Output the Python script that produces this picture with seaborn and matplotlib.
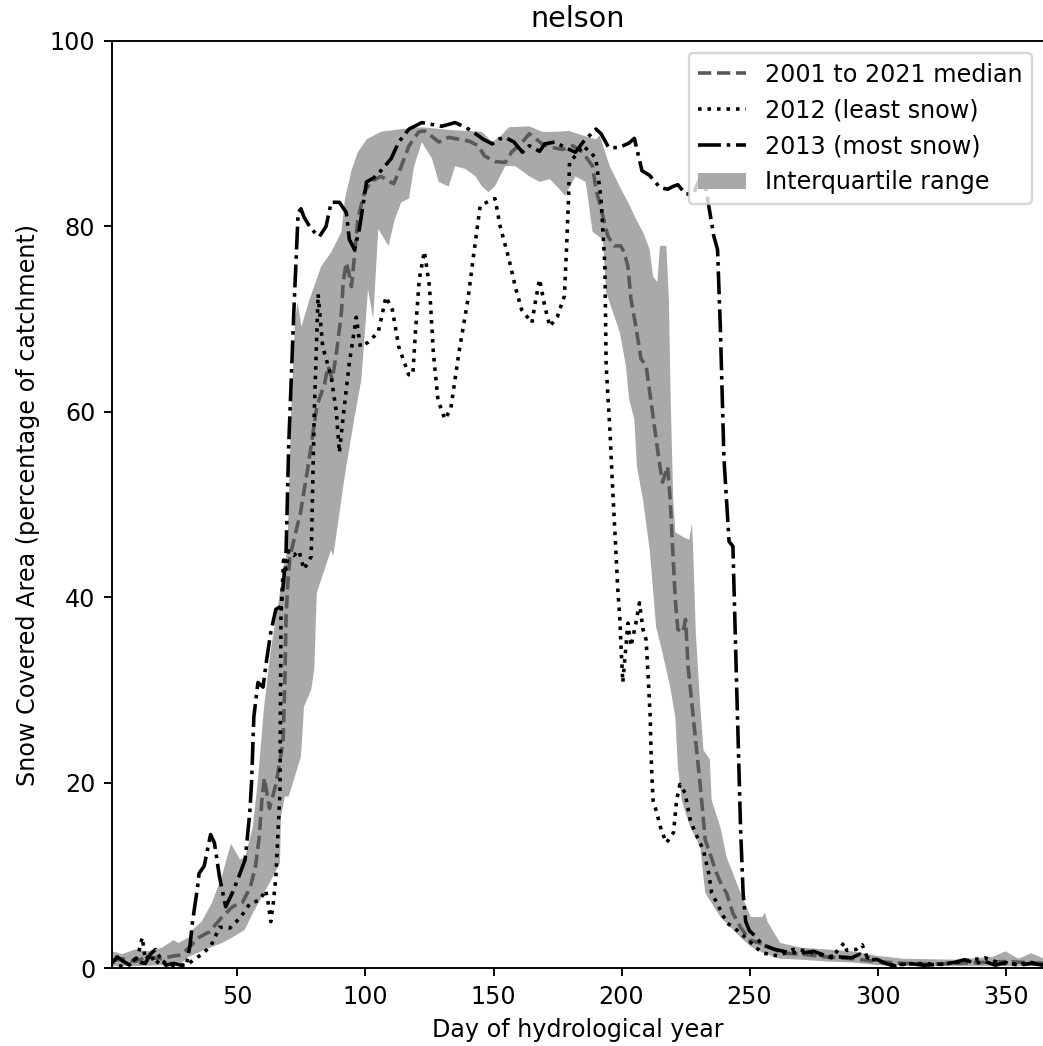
import numpy as np
import matplotlib
matplotlib.use("Agg")
import matplotlib.pyplot as plt
import seaborn as sns

# 中位数 (2001-2021)
med_days = [1, 5, 10, 15, 20, 25, 28, 31, 35, 39, 44, 48, 52, 55, 57, 58.5, 59.5, 60.5, 62.5, 65,
            67.8, 68.5, 69, 69.7, 70.5, 74.6, 77.8, 81, 84, 85.4, 87, 88.5, 90.6, 91.3, 92.5, 93.5,
            94.5, 95.7, 97, 99.6, 102, 106, 111, 114, 117, 120.8, 123, 126, 128.6, 132.5, 136.5,
            140.5, 144, 146.5, 150.6, 154.6, 157, 161.3, 164, 169, 173, 177, 181, 184.8, 188.7,
            190, 192, 194.6, 197, 199.7, 201, 202.5, 203.7, 205.6, 207.6, 209.6, 212.3, 215, 216,
            218, 219, 220, 221, 222, 224, 225, 226, 228, 230, 231, 232.7, 234.5, 237, 239.5, 241,
            243.5, 246.5, 250, 254, 258, 263, 270, 280, 290, 300, 310, 320, 330, 340, 350, 358, 365]
med_vals = [0.8, 1.0, 0.7, 1.2, 1.0, 1.3, 1.4, 2.2, 3.3, 3.9, 5.5, 6.6, 7.1, 8.7, 10.9, 14.1, 18.0,
            20.5, 17.2, 19.8, 24.3, 30.8, 38.0, 41.6, 44.4, 49.1, 54.5, 60.6, 63.0, 64.9, 63.5,
            66.0, 70.7, 74.0, 76.1, 75.0, 73.5, 76.8, 80.8, 83.7, 84.8, 85.4, 84.6, 86.5, 88.7,
            90.2, 90.3, 89.7, 89.1, 89.6, 89.4, 89.2, 88.7, 87.6, 87.0, 86.9, 88.0, 89.1, 90.0,
            88.9, 88.5, 88.3, 88.7, 88.0, 86.5, 84.0, 81.9, 79.0, 77.9, 77.9, 77.2, 75.7, 72.1,
            69.2, 65.7, 65.0, 59.5, 54.1, 52.4, 54.1, 50.5, 45.1, 39.7, 36.5, 36.2, 37.6, 32.5,
            27.1, 21.7, 18.9, 13.8, 12.4, 10.3, 8.7, 8.1, 5.9, 4.4, 3.0, 2.7, 2.2, 1.6, 1.5, 1.2,
            1.0, 0.7, 0.5, 0.4, 0.5, 0.6, 0.7, 0.6, 0.5]

# 四分位范围 下界
q25_days = [1, 10, 20, 28, 31, 37.5, 44, 48, 52.8, 56, 62.6, 66.6, 67, 68.5, 70, 74.8, 76, 78.8, 80,
            81, 82.7, 86.6, 87.4, 91.7, 95.6, 98.4, 101, 103, 105, 109, 111.5, 114, 117, 119, 122,
            126, 128.6, 132.5, 135, 139, 143, 145.5, 148, 150.5, 154.6, 158.5, 164, 168, 172,
            175.8, 178, 182, 186, 188.7, 192.7, 194, 199.3, 201.7, 203, 205, 206, 208.4, 211,
            213.5, 216, 219, 221, 222, 223.5, 226.8, 230.7, 232.7, 234.5, 238.6, 242.5, 246.5,
            250.5, 255.5, 262, 270, 280, 290, 300, 320, 340, 365]
q25_vals = [0.2, 0.2, 0.3, 0.5, 1.2, 2.0, 2.7, 3.3, 4.1, 5.9, 9.2, 11.3, 16.3, 18.5, 18.5, 22.8,
            28.2, 30.0, 32.2, 40.5, 41.9, 45.1, 44.4, 52.7, 59.2, 63.5, 73.2, 70.0, 79.7, 77.9,
            80.8, 82.6, 83.0, 86.5, 89.1, 87.3, 84.8, 84.3, 86.5, 86.2, 85.4, 84.3, 83.7, 84.3,
            86.5, 86.5, 85.4, 84.8, 85.1, 84.0, 83.3, 85.4, 84.8, 79.4, 78.6, 72.9, 68.6, 65.0,
            61.3, 59.2, 54.1, 50.5, 45.1, 36.8, 34.0, 30.3, 27.1, 21.7, 18.1, 15.2, 13.1, 8.1,
            7.3, 5.5, 4.4, 3.3, 2.3, 1.6, 1.0, 0.9, 0.7, 0.6, 0.3, 0.2, 0.2, 0.2]

# 四分位范围 上界
q75_days = [1, 5, 10, 15, 20.6, 25, 27, 31, 32.4, 36, 40, 44, 46, 47.5, 51, 53, 56, 58, 60.3, 63,
            65.8, 68, 69.5, 71, 72.5, 73.5, 75, 78, 82.7, 86.6, 90.6, 92, 94.5, 97, 100.5, 106,
            114, 122, 133, 145.5, 149.5, 153, 156, 164, 169, 174, 179.5, 185, 190, 191.5, 195.4,
            199.3, 203.3, 205.6, 208.4, 211, 212.3, 214, 215, 217.5, 218.5, 219.2, 220.2, 221,
            224, 226.5, 227.5, 228, 229, 230.6, 232, 234.5, 235.2, 238.6, 241, 246.5, 250.5, 255,
            256, 257, 262, 270, 280, 290, 300, 310, 330, 345, 350, 355, 360, 365]
q75_vals = [1.8, 1.5, 2.0, 1.8, 2.2, 3.0, 2.7, 3.3, 4.1, 5.0, 7.0, 10.0, 12.0, 13.4, 11.7, 12.0,
            15.2, 20.3, 27.9, 34.3, 39.0, 43.3, 45.0, 60.0, 70.0, 71.8, 69.2, 72.0, 75.7, 77.2,
            79.4, 83.0, 86.0, 88.0, 89.4, 90.2, 90.5, 90.7, 90.4, 90.2, 89.1, 89.8, 90.7, 90.8,
            90.2, 90.2, 90.3, 89.8, 89.4, 89.8, 86.5, 84.3, 82.2, 80.8, 79.4, 77.5, 74.6, 74.0,
            77.9, 77.9, 72.1, 61.3, 50.5, 47.0, 46.5, 46.2, 48.0, 45.0, 36.2, 28.9, 23.5, 22.5,
            18.1, 15.2, 12.0, 8.1, 5.5, 5.5, 6.0, 5.0, 2.7, 2.2, 2.0, 1.8, 1.3, 1.0, 0.9, 1.2,
            1.8, 1.0, 1.6, 1.0]

# 2012 (雪最少)
y2012_days = [1, 3, 6, 9, 11, 12.8, 14, 16, 18, 20, 22, 24, 27, 31, 35.6, 39.5, 43, 47, 51, 55,
              58.7, 61, 62, 63, 64, 65, 66, 66.6, 67, 68, 69, 70, 72, 74, 76, 78.8, 80, 81.5,
              83.3, 86.6, 88.6, 89.8, 91.5, 93.7, 96.4, 98, 101, 105, 108, 110.5, 113, 116.9,
              118.5, 119.5, 121, 123, 125, 126.5, 128.3, 131, 133.3, 136.5, 140, 142.5, 144.8,
              148, 150.6, 152.6, 156, 158.5, 161, 165, 166.5, 168, 170, 172, 175, 177.7, 178.5,
              179.3, 179.7, 182, 184.8, 188, 190, 192, 193.5, 194, 195.5, 196.6, 197.8, 198.5,
              199.3, 199.8, 200.5, 202.5, 203.7, 205.6, 207, 208.4, 209.6, 210.4, 211.2, 211.6,
              212.3, 213.5, 215.5, 217.5, 220.3, 221.5, 222.8, 224.8, 226.8, 228.8, 232, 234,
              235.2, 238, 241, 245, 249.6, 252.4, 255.5, 261, 267, 271, 278, 282, 285.7, 286.9,
              288, 291.6, 294, 296, 301, 305, 315, 325, 335, 342, 348, 355, 360, 365]
y2012_vals = [0.9, 0.3, 0.1, 0.5, 1.2, 3.3, 0.9, 1.5, 0.4, 1.0, 0.5, 0.3, 0.2, 0.5, 1.4, 2.3, 4.4,
              4.3, 5.4, 7.0, 7.3, 8.4, 7.0, 5.0, 7.0, 9.8, 15.6, 19.0, 38.0, 44.0, 43.0, 45.0,
              44.5, 45.0, 43.0, 44.4, 60.0, 72.7, 67.0, 63.8, 60.0, 55.6, 60.0, 65.3, 70.2, 67.0,
              67.5, 68.6, 72.4, 71.0, 67.0, 64.0, 64.0, 68.6, 74.3, 77.3, 73.5, 66.4, 61.3, 59.2,
              60.3, 66.4, 72.1, 77.5, 82.2, 82.7, 83.0, 80.0, 76.5, 73.5, 71.0, 69.6, 72.1, 74.3,
              71.4, 69.2, 70.3, 72.5, 77.5, 83.0, 87.0, 87.6, 88.7, 88.0, 87.3, 83.0, 75.7, 65.0,
              57.8, 51.3, 45.0, 41.0, 37.9, 34.7, 30.8, 37.2, 34.7, 37.2, 39.4, 36.5, 35.4, 31.4,
              27.1, 22.5, 18.1, 17.0, 14.9, 13.5, 14.6, 18.1, 19.8, 18.9, 16.0, 14.6, 12.7, 10.3,
              8.1, 6.6, 4.9, 4.1, 3.0, 2.2, 1.6, 1.3, 2.0, 1.9, 1.4, 1.1, 2.3, 2.7, 1.9, 2.0, 2.5,
              1.1, 0.7, 0.3, 0.5, 0.4, 0.8, 1.1, 0.5, 0.4, 0.6, 0.3]

# 2013 (雪最多)
y2013_days = [1, 3, 5, 8, 10, 12, 14, 16, 18, 20, 22, 25, 28, 30, 31.5, 32.4, 34.4, 35, 37, 39.5,
              41, 43, 45.4, 48, 51, 53, 54.8, 55.5, 56.4, 58, 60, 61, 63, 65, 67, 68, 69, 70, 72,
              73.7, 74.8, 76, 78.8, 82, 84.6, 86.6, 89.8, 92.5, 93.7, 95.7, 97.6, 99, 100.4, 103,
              106, 110, 113, 117, 122, 126, 129.8, 135, 139, 142, 146, 149.5, 152, 154.6, 158,
              161.3, 164, 168, 170, 174, 178, 182, 185, 190, 192, 195, 199, 203, 205, 208, 211,
              215, 218, 220, 222, 225, 228, 231, 233, 236, 237.5, 238.6, 240, 241, 242, 243.5,
              245, 246.5, 247.5, 248.5, 250, 252, 255, 260, 265, 270, 275, 280, 285, 290, 293,
              297, 300, 303, 307, 312, 318, 325, 330, 334, 338, 342, 346, 350, 355, 360, 365]
y2013_vals = [0.5, 1.2, 0.8, 0.3, 1.0, 0.6, 0.5, 1.5, 2.0, 1.0, 0.3, 0.5, 0.3, 0.2, 2.5, 4.9, 8.7,
              10.2, 11.0, 14.4, 13.5, 9.8, 6.6, 8.1, 10.2, 11.7, 16.7, 20.0, 27.1, 30.8, 30.3,
              32.5, 36.2, 38.7, 39.0, 41.6, 45.1, 56.3, 70.7, 81.5, 81.9, 81.0, 79.7, 78.9, 80.0,
              82.6, 82.6, 81.5, 78.6, 77.5, 79.7, 82.2, 84.8, 85.2, 86.0, 87.3, 89.1, 90.5, 91.2,
              91.0, 90.8, 91.2, 90.7, 90.2, 89.4, 88.9, 89.4, 89.6, 89.1, 88.0, 88.7, 88.1, 88.9,
              89.1, 88.5, 88.0, 89.1, 90.5, 90.0, 88.5, 88.5, 89.0, 89.5, 86.0, 85.5, 84.2, 84.0,
              84.3, 84.5, 83.5, 83.5, 85.4, 84.0, 79.0, 77.5, 69.0, 55.0, 50.5, 46.0, 45.5, 30.0,
              15.0, 8.0, 5.0, 4.0, 3.5, 2.5, 2.0, 1.7, 1.6, 1.8, 1.3, 1.2, 1.1, 1.5, 1.0, 0.9, 0.5,
              0.2, 0.5, 0.3, 0.4, 0.6, 0.9, 0.5, 0.7, 0.3, 0.6, 0.3, 0.5, 0.3]

fig = plt.figure(figsize=(1043 / 172, 1046 / 172), dpi=172)
ax = fig.add_axes([112 / 1043, 78 / 1046, 932 / 1043, 927 / 1046])

sns.lineplot(x=med_days, y=med_vals, ax=ax, color='0.35', linestyle='--',
             label='2001 to 2021 median')
sns.lineplot(x=y2012_days, y=y2012_vals, ax=ax, color='black', linestyle=':',
             label='2012 (least snow)')
sns.lineplot(x=y2013_days, y=y2013_vals, ax=ax, color='black', linestyle='-.',
             label='2013 (most snow)')

# 四分位范围: 上界正向 + 下界反向 组成多边形
band_x = list(q75_days) + list(q25_days[::-1])
band_y = list(q75_vals) + list(q25_vals[::-1])
ax.fill(band_x, band_y, color='darkgray', linewidth=0, label='Interquartile range', zorder=1)

ax.set_xlim(1, 365)
ax.set_ylim(0, 100)
ax.set_xlabel('Day of hydrological year')
ax.set_ylabel('Snow Covered Area (percentage of catchment)')
ax.set_title('nelson')
ax.legend(loc='upper right')

fig.savefig('out.png', dpi=172)
